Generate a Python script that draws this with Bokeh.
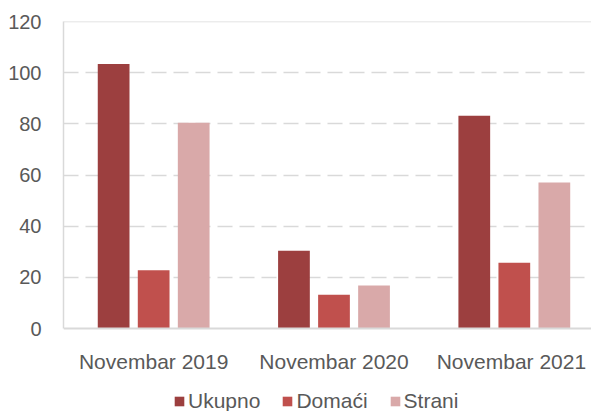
from bokeh.plotting import figure
from bokeh.models import Range1d, FixedTicker, Span, Legend, LegendItem, ColumnDataSource
from bokeh.core.properties import value
from bokeh.embed import file_html
from bokeh.resources import INLINE

categories = ["Novembar 2019", "Novembar 2020", "Novembar  2021"]
ukupno = [103.4, 30.4, 83.2]
domaci = [22.8, 13.2, 25.7]
strani = [80.4, 16.8, 57.1]
series_names = ["Ukupno", "Domaći", "Strani"]
series_values = [ukupno, domaci, strani]
colors = ["#9C3F3F", "#C0504D", "#D9A9A9"]
y_ticks = [0, 20, 40, 60, 80, 100, 120]
grid_ticks = [20, 40, 60, 80, 100]

FONT = "Liberation Sans"
TXT = "#595959"
GRID = "#D9D9D9"

centers = [i + 0.5 for i in range(len(categories))]
offsets = [-0.222, 0.0, 0.222]

p = figure(width=591, height=411, output_backend="svg", toolbar_location=None,
           x_range=Range1d(0, 2.928), y_range=Range1d(-32.44, 120),
           x_axis_location=None)
p.min_border_left = 63
p.min_border_right = 0
p.min_border_top = 21
p.min_border_bottom = 0
p.outline_line_color = None
p.background_fill_color = "white"
p.border_fill_color = "white"

# grid
p.xgrid.grid_line_color = None
p.ygrid.ticker = FixedTicker(ticks=grid_ticks)
p.ygrid.grid_line_color = GRID
p.ygrid.grid_line_width = 1.5
p.ygrid.grid_line_dash = "15 7"
p.add_layout(Span(location=120, dimension="width", line_color=GRID, line_width=1.5))
p.add_layout(Span(location=0, dimension="width", line_color=GRID, line_width=2))

renderers = []
for name, vals, off, col in zip(series_names, series_values, offsets, colors):
    src = ColumnDataSource(dict(x=[c + off for c in centers], top=vals))
    r = p.vbar(x="x", top="top", width=0.176, bottom=0, source=src,
               fill_color=col, line_color=None)
    renderers.append((name, r))

# y axis
p.yaxis.ticker = FixedTicker(ticks=y_ticks)
p.yaxis.bounds = (0, 120)
p.yaxis.major_tick_line_color = None
p.yaxis.minor_tick_line_color = None
p.yaxis.major_label_standoff = 16
p.yaxis.axis_line_color = GRID
p.yaxis.axis_line_width = 1.5
p.yaxis.major_label_text_font = FONT
p.yaxis.major_label_text_font_size = "20px"
p.yaxis.major_label_text_color = TXT

# category labels under the bars
lab_src = ColumnDataSource(dict(x=centers, y=[-12.9] * len(categories), text=categories))
p.text(x="x", y="y", text="text", source=lab_src, text_align="center",
       text_baseline="alphabetic", text_font=value(FONT),
       text_font_size="21px", text_color=TXT)

legend = Legend(items=[LegendItem(label=n, renderers=[r]) for n, r in renderers],
                orientation="horizontal", location=(110, -2))
legend.label_text_font = FONT
legend.label_text_font_size = "21px"
legend.label_text_color = TXT
legend.glyph_width = 12
legend.glyph_height = 12
legend.label_standoff = 3
legend.spacing = 21
legend.padding = 0
legend.margin = 0
legend.border_line_color = None
legend.background_fill_alpha = 0
p.add_layout(legend, "center")

open("out.html", "w").write(file_html(p, INLINE))
